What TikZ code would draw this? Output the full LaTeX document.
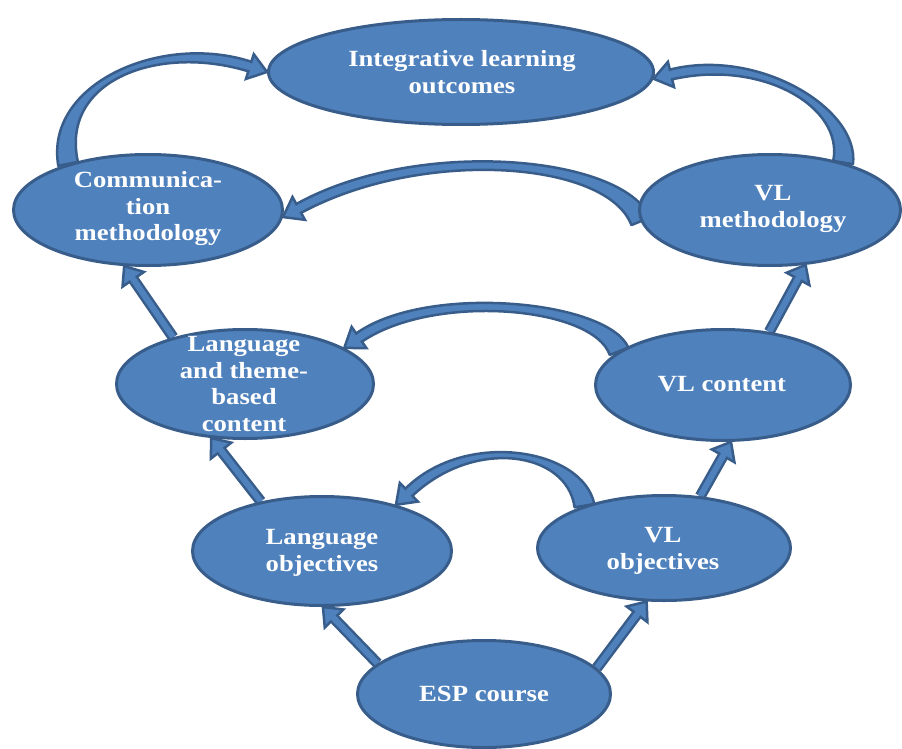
\documentclass[tikz,border=0pt]{standalone}
\usepackage{fontspec}
\setmainfont{Liberation Serif}[FakeStretch=1.15]
\usetikzlibrary{calc,shapes.geometric}
\definecolor{fillc}{HTML}{4F81BD}
\definecolor{bordc}{HTML}{385D8A}
\pgfdeclarelayer{bg}
\pgfdeclarelayer{paper}
\pgfsetlayers{paper,bg,main}
\tikzset{
  oval/.style={ellipse, draw=bordc, fill=fillc, line width=3pt, inner sep=0pt},
  lbl/.style={text=white, font=\fontsize{23.2}{26.5}\selectfont\bfseries, align=center, inner sep=0pt},
  shaft/.style={draw=bordc, line width=2.5pt, double=fillc, double distance=6pt},
  ribbon/.style={draw=bordc, fill=fillc, line width=2.5pt, line join=round},
  headst/.style={draw=bordc, fill=fillc, line width=2.5pt, line join=miter},
  patch/.style={draw=fillc, line width=6pt},
}
\newcommand\blockarr[2]{%
  \coordinate (h) at ($(#2)!16pt!(#1)$);
  \draw[shaft] (#1) -- (h);
  \draw[headst] ($(h)!13pt!90:(#2)$) -- (#2) -- ($(h)!13pt!-90:(#2)$) -- cycle;
  \draw[patch] ($(h)!-3pt!(#2)$) -- ($(h)!2pt!(#2)$);
}
\newcommand\curvarr[4]{%
  \coordinate (h) at ($(#4)!18pt!(#3)$);
  \coordinate (s) at (#1);
  \coordinate (ca) at (#2);
  \coordinate (cb) at (#3);
  \filldraw[ribbon] ($(s)!10pt!90:(ca)$) .. controls ($(ca)!8pt!-90:(s)$) and ($(cb)!6pt!90:(h)$) .. ($(h)!5pt!90:(#4)$)
     -- ($(h)!5pt!-90:(#4)$) .. controls ($(cb)!6pt!-90:(h)$) and ($(ca)!8pt!90:(s)$) .. ($(s)!10pt!-90:(ca)$) -- cycle;
  \draw[headst] ($(h)!13pt!90:(#4)$) -- (#4) -- ($(h)!13pt!-90:(#4)$) -- cycle;
  \draw[patch, line width=7pt] ($(h)!-3pt!(#4)$) -- ($(h)!2pt!(#4)$);
}
\begin{document}
\begin{tikzpicture}[x=1pt,y=1pt]
\useasboundingbox (0,0) rectangle (902,-749);
\begin{pgfonlayer}{paper}
\fill[white] (0,0) rectangle (902,-749);
\end{pgfonlayer}
% ellipses
\node[oval, minimum width=385pt, minimum height=105pt] (integ) at (461,-72) {};
\node[oval, minimum width=269pt, minimum height=111pt] (comm) at (148,-210) {};
\node[oval, minimum width=261pt, minimum height=111pt] (vlm) at (770,-210) {};
\node[oval, minimum width=257pt, minimum height=109pt] (lt) at (245,-384) {};
\node[oval, minimum width=255pt, minimum height=111pt] (vc) at (723,-385) {};
\node[oval, minimum width=259pt, minimum height=109pt] (lo) at (322,-551) {};
\node[oval, minimum width=253pt, minimum height=105pt] (vo) at (664,-548) {};
\node[oval, minimum width=253pt, minimum height=107pt] (esp) at (484,-694) {};
% labels
\node[lbl] (integ-t) at (462,-72) {Integrative learning\\outcomes};
\node[lbl] (comm-t) at (148,-209) {Communica-\\tion\\methodology};
\node[lbl] (vlm-t) at (773,-209) {VL\\methodology};
\node[lbl] (lt-t) at (244,-384) {Language\\and theme-\\based\\content};
\node[lbl] (vc-t) at (722,-384) {VL content};
\node[lbl] (lo-t) at (322,-553) {Language\\objectives};
\node[lbl] (vo-t) at (663,-551) {VL\\objectives};
\node[lbl] (esp-t) at (484,-694) {ESP course};
% connectors
\begin{pgfonlayer}{bg}
\blockarr{esp.164}{lo.-89}
\blockarr{esp.13}{vo.-108}
\blockarr{lo.141}{lt.-122}
\blockarr{vo.55}{vc.-82}
\blockarr{lt.147}{comm.-113}
\blockarr{vc.49}{vlm.-57}
\curvarr{comm.150}{52,-82}{160,-38}{integ.180}
\curvarr{vlm.33}{852,-108}{760,-53}{integ.-2}
\curvarr{vlm.185}{615,-158}{420,-142}{comm.-3}
\curvarr{vc.162}{600,-303}{430,-288}{lt.20}
\curvarr{vo.152}{575,-450}{470,-433}{lo.32}
\end{pgfonlayer}
\end{tikzpicture}
\end{document}
